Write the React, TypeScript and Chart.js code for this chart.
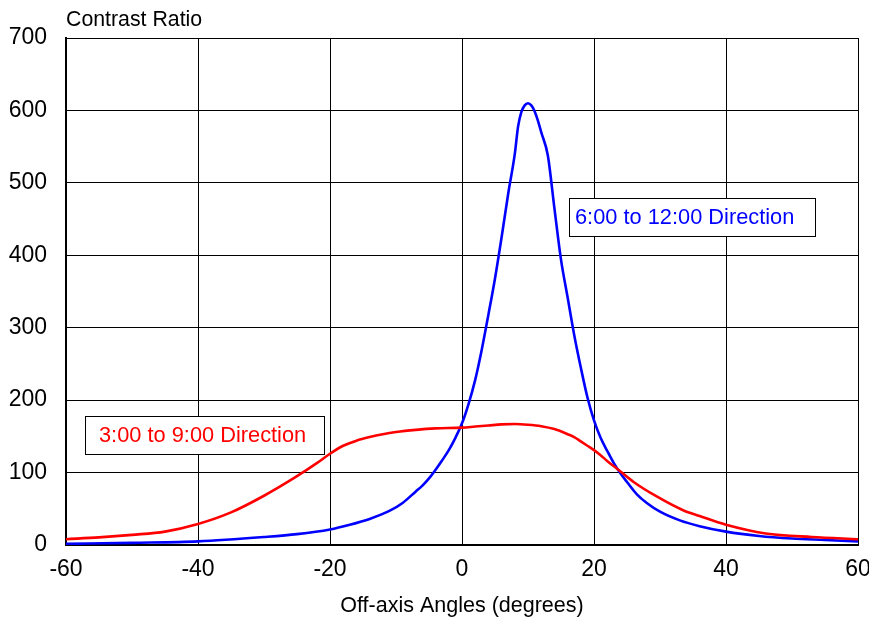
import React, { useEffect, useRef } from "react";
import { Chart, registerables } from "chart.js";

Chart.register(...registerables);

const blueAngles = [-60, -50, -40, -30, -25, -20, -17, -14, -11, -9, -7, -6, -5, -4, -3, -2, -1, 0, 1, 2, 3, 4, 5, 6, 7, 8, 8.5, 9, 9.5, 10, 10.5, 11, 11.5, 12, 13, 14, 15, 16, 17, 18, 19, 20, 21, 22, 23, 24, 25, 26.5, 28, 30, 33, 36, 40, 45, 50, 55, 60];
const blueValues = [1.5, 3, 5, 11, 15, 21.5, 28, 36, 47, 58, 74, 82, 92, 104, 117, 131, 148, 168, 195, 228, 270, 318, 368, 425, 485, 540, 578, 598, 607, 610, 607, 599, 586, 570, 538, 465, 394, 342, 290, 245, 204, 172, 148, 130, 113, 99, 87, 70, 58, 46, 34, 26, 18.5, 12.5, 9, 7, 5];

const redAngles = [-60, -55, -50, -45, -40, -35, -30, -25, -22, -20, -18, -16, -14, -12, -10, -7, -4, 0, 2, 4, 6, 8, 10, 12, 14, 16, 17, 18, 19, 20, 21, 22, 23.4, 26, 29.5, 33.5, 36, 40, 46, 53, 60];
const redValues = [8, 10.5, 14, 18.5, 29, 45, 68, 95, 113, 126, 137, 144, 149, 153, 156, 159, 161, 162, 163.5, 165, 166.5, 167, 166, 164, 160, 153, 149, 143, 137, 131, 124, 116, 106, 87, 67, 48, 40, 28, 16, 11, 8];

const xTicks = [-60, -40, -20, 0, 20, 40, 60];
const yTicks = [0, 100, 200, 300, 400, 500, 600, 700];

const blueLabel = "6:00 to 12:00 Direction";
const redLabel = "3:00 to 9:00 Direction";
const yTitle = "Contrast Ratio";
const xTitle = "Off-axis Angles (degrees)";

const FONT = "'Liberation Sans', Arial, sans-serif";

const overlayPlugin = {
  id: "overlay",
  afterDraw(chart: any) {
    const { ctx, chartArea } = chart;
    ctx.save();
    ctx.font = `21.3px ${FONT}`;
    ctx.fillStyle = "#000";
    ctx.textAlign = "left";
    ctx.textBaseline = "middle";
    ctx.fillText(yTitle, chartArea.left, 20);

    const drawBox = (x: number, y: number, w: number, h: number, tx: number, text: string, color: string) => {
      ctx.fillStyle = "#fff";
      ctx.fillRect(x, y, w, h);
      ctx.strokeStyle = "#000";
      ctx.lineWidth = 1;
      ctx.strokeRect(x + 0.5, y + 0.5, w, h);
      ctx.fillStyle = color;
      ctx.font = `21.8px ${FONT}`;
      ctx.textBaseline = "middle";
      ctx.fillText(text, tx, y + h / 2 + 1);
    };
    drawBox(85, 416, 239, 38, 99, redLabel, "#ff0000");
    drawBox(569, 198, 246, 38, 575, blueLabel, "#0000ff");
    ctx.restore();
  },
};

export default function App() {
  const ref = useRef<HTMLCanvasElement>(null);
  useEffect(() => {
    document.body.style.margin = "0";
    const canvas = ref.current!;
    const chart = new Chart(canvas, {
      type: "line",
      data: {
        datasets: [
          {
            label: redLabel,
            data: redAngles.map((x, i) => ({ x, y: redValues[i] })),
            borderColor: "#ff0000",
            borderWidth: 2.6,
            pointRadius: 0,
            cubicInterpolationMode: "monotone",
            fill: false,
          },
          {
            label: blueLabel,
            data: blueAngles.map((x, i) => ({ x, y: blueValues[i] })),
            borderColor: "#0000ff",
            borderWidth: 2.6,
            pointRadius: 0,
            cubicInterpolationMode: "monotone",
            fill: false,
          },
        ],
      },
      options: {
        animation: false,
        responsive: false,
        devicePixelRatio: 1,
        layout: { padding: { top: 38, right: 42, left: 0, bottom: 0 } },
        plugins: {
          legend: { display: false },
          tooltip: { enabled: false },
          title: { display: false },
        },
        scales: {
          x: {
            type: "linear",
            min: -60,
            max: 60,
            afterBuildTicks: (s: any) => {
              s.ticks = xTicks.map((v) => ({ value: v }));
            },
            afterFit: (s: any) => {
              s.height = 74;
            },
            ticks: {
              color: "#000",
              font: { family: FONT, size: 23 },
              padding: 11,
              maxRotation: 0,
              autoSkip: false,
            },
            grid: { color: "#000", lineWidth: 1, drawTicks: false },
            border: { color: "#000", width: 2 },
            title: {
              display: true,
              text: xTitle,
              color: "#000",
              font: { family: FONT, size: 21.5 },
              padding: { top: 0, bottom: 0 },
            },
          },
          y: {
            type: "linear",
            min: 0,
            max: 700,
            afterBuildTicks: (s: any) => {
              s.ticks = yTicks.map((v) => ({ value: v }));
            },
            afterFit: (s: any) => {
              s.width = 66;
            },
            ticks: {
              color: "#000",
              font: { family: FONT, size: 23 },
              padding: 19,
              autoSkip: false,
            },
            grid: { color: "#000", lineWidth: 1, drawTicks: false },
            border: { color: "#000", width: 2 },
          },
        },
      },
      plugins: [overlayPlugin],
    } as any);
    return () => chart.destroy();
  }, []);

  return (
    <div
      style={{
        position: "fixed",
        left: 0,
        top: 0,
        width: 869,
        height: 619,
        overflow: "hidden",
        background: "#fff",
      }}
    >
      <canvas ref={ref} width={900} height={619} style={{ display: "block", width: 900, height: 619 }} />
    </div>
  );
}
